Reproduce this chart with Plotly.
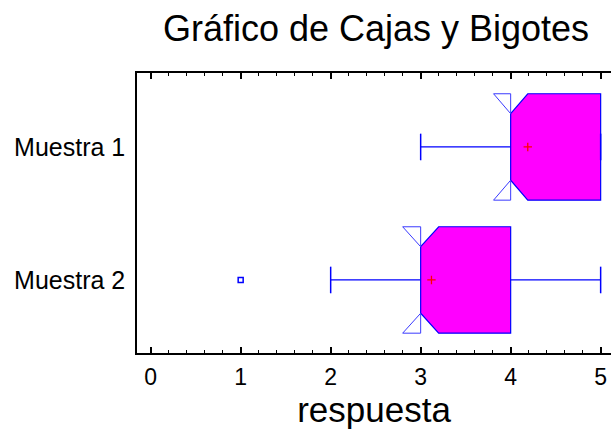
import plotly.graph_objects as go

# ---- data ----
categories = ["Muestra 1", "Muestra 2"]
mins = [3.0, 2.0]
q1s = [4.0, 3.0]
medians = [4.0, 3.0]
q3s = [5.0, 4.0]
maxs = [5.0, 5.0]
notch_lo = [3.81, 2.80]
notch_hi = [4.19, 3.20]
means = [4.19, 3.12]
outliers = [[], [1.0]]
x_ticks = [0, 1, 2, 3, 4, 5]

title_text = "Gráfico de Cajas y Bigotes"
x_title = "respuesta"

# ---- style ----
FONT = "Liberation Sans, Arial, sans-serif"
BOX_FILL = "#FF00FF"
BLUE = "#0000FF"
H = 0.40   # half box height (axis units)
HN = 0.25  # half height at the notch
CAP = 0.10

fig = go.Figure()
n = len(categories)


def y_on_diag(x, x0, y0, x1, y1):
    if x1 == x0:
        return y1
    return y0 + (y1 - y0) * (x - x0) / (x1 - x0)


for i, cat in enumerate(categories):
    c = n - 1 - i
    q1, md, q3 = q1s[i], medians[i], q3s[i]
    nl, nh = notch_lo[i], notch_hi[i]
    top, bot = c + H, c - H
    pts_top = []
    if nl >= q1:
        pts_top += [(q1, top), (nl, top)]
    else:
        pts_top += [(q1, y_on_diag(q1, nl, top, md, c + HN))]
    pts_top += [(md, c + HN)]
    if nh <= q3:
        pts_top += [(nh, top), (q3, top)]
    else:
        pts_top += [(q3, y_on_diag(q3, md, c + HN, nh, top))]
    pts_bot = [(x, 2 * c - y) for (x, y) in reversed(pts_top)]
    pts = pts_top + pts_bot + [pts_top[0]]
    fig.add_trace(go.Scatter(
        x=[p[0] for p in pts], y=[p[1] for p in pts],
        mode="lines", fill="toself", fillcolor=BOX_FILL,
        line=dict(color=BLUE, width=1.2), hoverinfo="skip", showlegend=False))
    if nl < q1:
        yq = y_on_diag(q1, nl, top, md, c + HN)
        for s in (1, -1):
            tx = [nl, q1, q1, nl]
            ty = [c + s * (top - c), c + s * (top - c), c + s * (yq - c), c + s * (top - c)]
            fig.add_trace(go.Scatter(x=tx, y=ty, mode="lines",
                                     line=dict(color="#3a3aff", width=1),
                                     hoverinfo="skip", showlegend=False))
    if nh > q3:
        yq = y_on_diag(q3, md, c + HN, nh, top)
        for s in (1, -1):
            tx = [nh, q3, q3, nh]
            ty = [c + s * (top - c), c + s * (top - c), c + s * (yq - c), c + s * (top - c)]
            fig.add_trace(go.Scatter(x=tx, y=ty, mode="lines",
                                     line=dict(color="#3a3aff", width=1),
                                     hoverinfo="skip", showlegend=False))
    fig.add_trace(go.Scatter(x=[mins[i], q1, None, q3, maxs[i]],
                             y=[c, c, None, c, c], mode="lines",
                             line=dict(color=BLUE, width=1.2),
                             hoverinfo="skip", showlegend=False))
    fig.add_trace(go.Scatter(x=[mins[i], mins[i], None, maxs[i], maxs[i]],
                             y=[c - CAP, c + CAP, None, c - CAP, c + CAP],
                             mode="lines", line=dict(color=BLUE, width=1.5),
                             hoverinfo="skip", showlegend=False))
    fig.add_trace(go.Scatter(x=[means[i]], y=[c], mode="markers",
                             marker=dict(symbol="cross-thin", size=6,
                                         line=dict(color="red", width=1.3)),
                             hoverinfo="skip", showlegend=False))
    if outliers[i]:
        fig.add_trace(go.Scatter(x=outliers[i], y=[c] * len(outliers[i]),
                                 mode="markers",
                                 marker=dict(symbol="square-open", size=5, color=BLUE,
                                             line=dict(color=BLUE, width=1.5)),
                                 hoverinfo="skip", showlegend=False))

fig.update_layout(
    width=611, height=432,
    margin=dict(l=137, r=0, t=73, b=79),
    paper_bgcolor="white", plot_bgcolor="white",
    font=dict(family=FONT, color="black"),
    title=dict(text=title_text, font=dict(size=36, family=FONT, color="black"),
               x=376 / 611, xanchor="center", y=1 - 28 / 432, yanchor="middle"),
    showlegend=False,
)
fig.update_xaxes(
    range=[-0.152, 5.115], tickvals=x_ticks, ticktext=[str(t) for t in x_ticks],
    showgrid=False, zeroline=False,
    showline=True, linecolor="black", linewidth=1.5, mirror="ticks",
    ticks="inside", ticklen=6, tickwidth=1.5, tickcolor="black",
    minor=dict(dtick=0.2, ticks="inside", ticklen=3, tickwidth=1, tickcolor="black"),
    tickfont=dict(size=23, family=FONT, color="black"),
    ticklabelstandoff=3,
    title=dict(text=x_title, font=dict(size=35, family=FONT, color="black"), standoff=6),
)
fig.update_yaxes(
    range=[-0.549, 1.556], tickvals=[n - 1 - i for i in range(n)], ticktext=categories,
    showgrid=False, zeroline=False,
    showline=True, linecolor="black", linewidth=1.5, mirror=False,
    ticks="", ticklabelstandoff=5,
    tickfont=dict(size=25, family=FONT, color="black"),
)

fig.write_html("out.html")
